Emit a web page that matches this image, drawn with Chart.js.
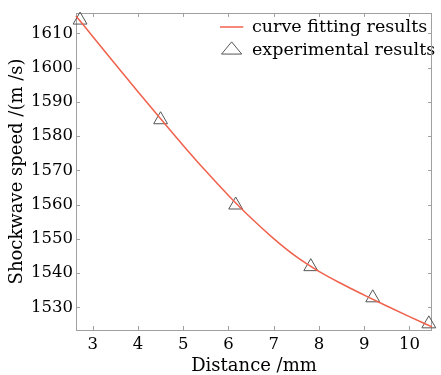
<!DOCTYPE html>
<html>
<head>
<meta charset="utf-8">
<script src="https://cdn.jsdelivr.net/npm/chart.js@4/dist/chart.umd.min.js"></script>
<style>
  html, body { margin: 0; padding: 0; background: #fff; }
  #wrap { width: 441px; height: 375px; }
</style>
</head>
<body>
<div id="wrap"><canvas id="shockChart" width="441" height="375"></canvas></div>
<script>
// fitted curve
const fitDistance = [2.63, 3.0, 3.5, 4.0, 4.5, 5.0, 5.5, 6.0, 6.5, 7.0, 7.5, 8.0, 8.5, 9.0, 9.5, 10.0, 10.5];
const fitSpeed = [1615.1, 1609.1, 1601.0, 1593.0, 1585.1, 1577.3, 1569.8, 1562.7, 1556.1, 1550.1, 1544.8, 1540.5, 1536.9, 1533.6, 1530.4, 1527.3, 1524.3];

// measured points
const expDistance = [2.72, 4.50, 6.16, 7.82, 9.19, 10.43];
const expSpeed = [1613.9, 1584.8, 1559.9, 1541.9, 1532.8, 1525.2];

const xTicks = [3, 4, 5, 6, 7, 8, 9, 10];
const yTicks = [1530, 1540, 1550, 1560, 1570, 1580, 1590, 1600, 1610];

const serif = 'DejaVu Serif';
const frameColor = '#a0a0a0';

function toPoints(xs, ys) {
  return xs.map((x, i) => ({ x: x, y: ys[i] }));
}

// box round the plot with small inward tick marks
const framePlugin = {
  id: 'frame',
  beforeDatasetsDraw(chart) {
    const ctx = chart.ctx;
    const a = chart.chartArea;
    const xs = chart.scales.x, ys = chart.scales.y;
    ctx.save();
    ctx.strokeStyle = frameColor;
    ctx.lineWidth = 1;
    ctx.strokeRect(Math.round(a.left) + 0.5, Math.round(a.top) + 0.5,
      Math.round(a.right - a.left) - 1, Math.round(a.bottom - a.top));
    ctx.beginPath();
    xs.ticks.forEach((t) => {
      const px = Math.round(xs.getPixelForValue(t.value)) + 0.5;
      ctx.moveTo(px, a.bottom); ctx.lineTo(px, a.bottom - 4);
      ctx.moveTo(px, a.top); ctx.lineTo(px, a.top + 4);
    });
    ys.ticks.forEach((t) => {
      const py = Math.round(ys.getPixelForValue(t.value)) + 0.5;
      ctx.moveTo(a.left, py); ctx.lineTo(a.left + 4, py);
      ctx.moveTo(a.right, py); ctx.lineTo(a.right - 4, py);
    });
    ctx.stroke();
    ctx.restore();
  }
};

// put the legend inside the plot, top right
const legendPlace = {
  id: 'legendPlace',
  afterLayout(chart) {
    const lg = chart.legend;
    if (!lg) return;
    const w = lg.width;
    lg.left = 214.5;
    lg.right = lg.left + w;
    lg.top = 12.75;
    lg.bottom = lg.top + 60;
  }
};

const ctx = document.getElementById('shockChart').getContext('2d');
const chart = new Chart(ctx, {
  type: 'scatter',
  data: {
    datasets: [{
      type: 'line',
      label: 'curve fitting results',
      data: toPoints(fitDistance, fitSpeed),
      borderColor: '#f0614c',
      backgroundColor: '#f0614c',
      borderWidth: 1.5,
      pointRadius: 0,
      pointStyle: 'line',
      pointBorderWidth: 1.5,
      pointBorderColor: '#f0614c',
      tension: 0.4,
      cubicInterpolationMode: 'monotone',
      fill: false,
      clip: false,
      order: 1
    }, {
      label: 'experimental results',
      data: toPoints(expDistance, expSpeed),
      pointStyle: 'triangle',
      pointRadius: 8,
      pointBorderWidth: 1,
      pointBorderColor: '#555',
      borderColor: '#555',
      pointBackgroundColor: 'rgba(0,0,0,0)',
      backgroundColor: 'rgba(0,0,0,0)',
      clip: false,
      order: 2
    }]
  },
  options: {
    responsive: false,
    devicePixelRatio: 1,
    animation: false,
    layout: { padding: { top: 9, right: 1, left: 0, bottom: 0 } },
    plugins: {
      tooltip: { enabled: false },
      legend: {
        display: true,
        position: 'chartArea',
        align: 'start',
        labels: {
          usePointStyle: true,
          pointStyleWidth: 23.25,
          boxHeight: 11.5,
          padding: 5.5,
          color: '#000',
          font: { family: serif, size: 17.5 }
        }
      }
    },
    scales: {
      x: {
        type: 'linear',
        min: 2.63,
        max: 10.5,
        grid: { display: false, drawTicks: false },
        border: { display: false },
        afterFit(s) { s.height = 45; },
        afterBuildTicks(s) { s.ticks = xTicks.map((v) => ({ value: v })); },
        ticks: {
          color: '#000',
          padding: 5,
          maxRotation: 0,
          autoSkip: false,
          callback: (v) => String(v),
          font: { family: serif, size: 16.5 }
        },
        title: {
          display: true,
          text: 'Distance /mm',
          color: '#000',
          padding: { top: 0, bottom: 0 },
          font: { family: serif, size: 18, lineHeight: 1 }
        }
      },
      y: {
        type: 'linear',
        min: 1523.4,
        max: 1616,
        grid: { display: false, drawTicks: false },
        border: { display: false },
        afterFit(s) { s.width = 76; },
        afterBuildTicks(s) { s.ticks = yTicks.map((v) => ({ value: v })); },
        ticks: {
          color: '#000',
          padding: 3,
          autoSkip: false,
          callback: (v) => String(v),
          font: { family: serif, size: 16.5 }
        },
        title: {
          display: true,
          text: 'Shockwave speed /(m /s)',
          color: '#000',
          padding: { top: 8, bottom: 0 },
          font: { family: serif, size: 18, lineHeight: 1 }
        }
      }
    }
  },
  plugins: [framePlugin, legendPlace]
});
</script>
</body>
</html>
